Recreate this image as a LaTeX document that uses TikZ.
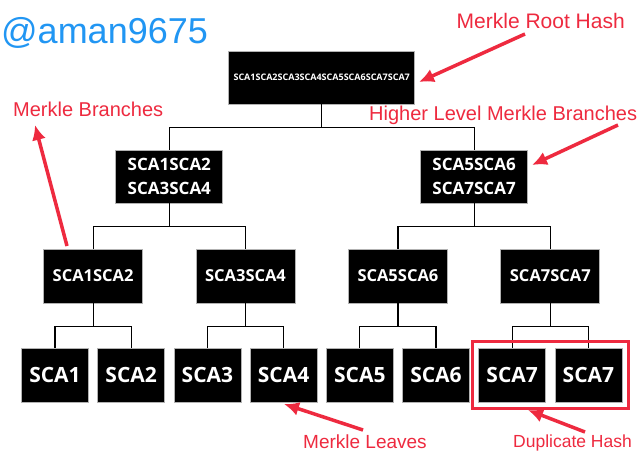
\documentclass[tikz,border=0pt]{standalone}
\usepackage{fontspec}
\setmainfont{Liberation Sans}
\newfontfamily\boxfont{Open Sans}
\usetikzlibrary{arrows.meta,calc,fit}
\definecolor{cNote}{HTML}{EE2A3F}
\definecolor{cTag}{HTML}{2196F3}

\begin{document}
\begin{tikzpicture}[x=1pt,y=-1pt,
  hashbox/.style={fill=black,draw=gray!60,line width=0.8pt,text=white,inner sep=0pt,align=center},
  leaf/.style={hashbox,minimum width=67pt,minimum height=54pt,font=\boxfont\bfseries\fontsize{21}{24}\selectfont},
  pair/.style={hashbox,minimum width=99pt,minimum height=54pt,font=\boxfont\bfseries\fontsize{16.5}{24}\selectfont},
  branch/.style={hashbox,minimum width=107pt,minimum height=53pt,font=\boxfont\bfseries\fontsize{17}{24}\selectfont},
  rootbox/.style={hashbox,minimum width=186pt,minimum height=53pt,font=\boxfont\bfseries\fontsize{9}{11}\selectfont},
  link/.style={line width=1.2pt},
  note/.style={anchor=base west,text=cNote,inner sep=0pt},
  pointer/.style={cNote,line width=3.5pt,-{Latex[length=15pt,width=14pt]}},
  dupframe/.style={draw=cNote,line width=3pt,inner sep=6pt},
  >=Latex]

\useasboundingbox[fill=white] (0,0) rectangle (640,452);

%============================ the tree ============================
% leaves
\foreach \i/\t in {1/SCA1,2/SCA2,3/SCA3,4/SCA4,5/SCA5,6/SCA6,7/SCA7,8/SCA7}
  \node[leaf] (l\i) at ({55+76.2*(\i-1)},375) {\t};

% first level of hashing
\foreach \i/\a/\b/\t in {1/1/2/SCA1SCA2,2/3/4/SCA3SCA4,3/5/6/SCA5SCA6,4/7/8/SCA7SCA7}
  \node[pair] (p\i) at ($(l\a)!0.5!(l\b)+(0,-99)$) {\t};

% higher level branches and the root
\node[branch] (h1) at ($(p1)!0.5!(p2)+(0,-99.5)$) {SCA1SCA2\\SCA3SCA4};
\node[branch] (h2) at ($(p3)!0.5!(p4)+(0,-99.5)$) {SCA5SCA6\\SCA7SCA7};
\node[rootbox] (root) at ($(h1)!0.5!(h2)+(0,-99)$) {SCA1SCA2SCA3SCA4SCA5SCA6SCA7SCA7};

% elbow links parent -> two children
\foreach \p/\a/\b in {p1/l1/l2,p2/l3/l4,p3/l5/l6,p4/l7/l8,h1/p1/p2,h2/p3/p4,root/h1/h2}
  \draw[link] (\a.north) |- ($(\p.south)+(0,23)$) -| (\b.north)
              (\p.south) -- ++(0,23);

% duplicated leaf
\node[dupframe,fit=(l7)(l8)] (dup) {};

%============================ notes ============================
\node[anchor=base west,text=cTag,inner sep=0pt,font=\fontsize{36}{40}\selectfont] (tag) at (1,44) {@aman9675};

\node[note,font=\fontsize{21}{24}\selectfont] (rootNote) at (456.5,29) {Merkle Root Hash};
\node[note,font=\fontsize{20}{24}\selectfont] (branchNote) at (13,117) {Merkle Branches};
\node[note,font=\fontsize{20}{24}\selectfont] (highNote) at (369,121) {Higher Level Merkle Branches};
\node[note,font=\fontsize{19}{22}\selectfont] (leafNote) at (303,448) {Merkle Leaves};
\node[note,font=\fontsize{17.5}{20}\selectfont] (dupNote) at (513,447) {Duplicate Hash};

\coordinate (rootTail) at (525,34);   \coordinate (rootTip) at (419,82);
\coordinate (branchTail) at (67,246); \coordinate (branchTip) at (35,125);
\coordinate (highTail) at (618,125);  \coordinate (highTip) at (532,165);
\coordinate (leafTail) at (363,430);  \coordinate (leafTip) at (284,404);
\coordinate (dupTail) at (585,432);   \coordinate (dupTip) at (528,410);

\draw[pointer] (rootTail) -- (rootTip);
\draw[pointer] (branchTail) -- (branchTip);
\draw[pointer] (highTail) -- (highTip);
\draw[pointer] (leafTail) -- (leafTip);
\draw[pointer] (dupTail) -- (dupTip);

\end{tikzpicture}
\end{document}
